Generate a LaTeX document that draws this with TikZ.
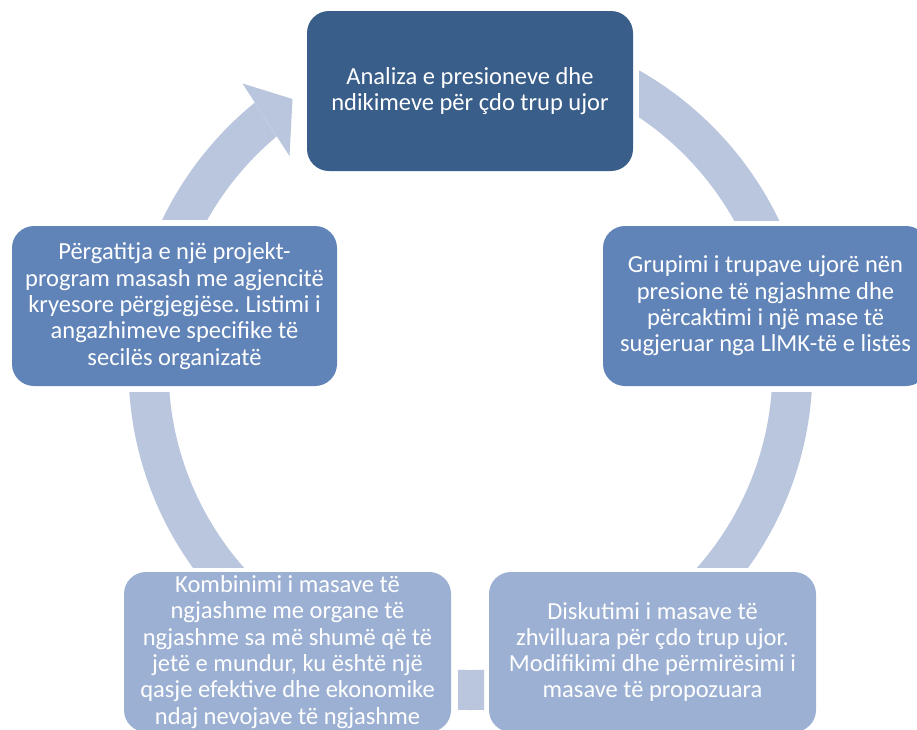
\documentclass[tikz,border=0pt]{standalone}
\usepackage{fontspec}
\setmainfont{Carlito}
\usetikzlibrary{calc}
\definecolor{topc}{RGB}{58,94,138}
\definecolor{midc}{RGB}{96,131,184}
\definecolor{lowc}{RGB}{156,176,211}
\definecolor{ringc}{RGB}{185,198,222}
\frenchspacing
\tikzset{
  stagebox/.style={rectangle, rounded corners=22pt, minimum width=325pt, minimum height=160pt,
    inner sep=0pt, align=center, text=white, font=\fontsize{24.5}{26.3}\selectfont},
  ringfill/.style={fill=ringc, even odd rule}
}
\begin{document}
\begin{tikzpicture}[x=1pt,y=-1pt]
\fill[white] (0,0) rectangle (917,729);
\useasboundingbox (0,0) rectangle (917,729);
\coordinate (C) at (470.5,368);
% arc: top -> right
\begin{scope}
\clip (639,-10) rectangle (930,220);
\fill[ringfill] (C) circle[radius=342pt] (C) circle[radius=302pt];
\end{scope}
% arc: right -> bottom right
\begin{scope}
\clip (471,392) rectangle (930,567);
\fill[ringfill] (C) circle[radius=342pt] (C) circle[radius=302pt];
\end{scope}
% arc: bottom right -> bottom left
\begin{scope}
\clip (458,600) rectangle (484,740);
\fill[ringfill] (C) circle[radius=342pt] (C) circle[radius=302pt];
\end{scope}
% arc: bottom left -> left
\begin{scope}
\clip (-10,392) rectangle (470,567);
\fill[ringfill] (C) circle[radius=342pt] (C) circle[radius=302pt];
\end{scope}
% arc: left -> top, with head
\begin{scope}
\clip (-200,-200) rectangle (470,219);
\clip (-200,-200) -- (61.6,-200) -- (381,300) -- (-200,300) -- cycle;
\fill[ringfill] (C) circle[radius=342pt] (C) circle[radius=302pt];
\end{scope}
\coordinate (h1) at (242.5,83.5);
\coordinate (h2) at (292.5,99);
\coordinate (h3) at (289.5,156);
\fill[ringc] (h1) -- (h2) -- (h3) -- cycle;
% stages
\node[stagebox, fill=topc, minimum width=326pt] (s1) at (470,91)
  {Analiza e presioneve dhe\\ndikimeve për çdo trup ujor};
\node[stagebox, fill=midc] (s2) at (765.5,306)
  {Grupimi i trupave ujorë nën\\presione të ngjashme dhe\\përcaktimi i një mase të\\sugjeruar nga LlMK-të e listës};
\node[stagebox, fill=lowc, minimum width=327pt] (s3) at (652.5,652)
  {Diskutimi i masave të\\zhvilluara për çdo trup ujor.\\Modifikimi dhe përmirësimi i\\masave të propozuara};
\node[stagebox, fill=lowc, minimum width=327pt] (s4) at (287.5,652)
  {Kombinimi i masave të\\ngjashme me organe të\\ngjashme sa më shumë që të\\jetë e mundur, ku është një\\qasje efektive dhe ekonomike\\ndaj nevojave të ngjashme};
\node[stagebox, fill=midc] (s5) at (174.5,306)
  {Përgatitja e një projekt-\\program masash me agjencitë\\kryesore përgjegjëse. Listimi i\\angazhimeve specifike të\\secilës organizatë};
\end{tikzpicture}
\end{document}
